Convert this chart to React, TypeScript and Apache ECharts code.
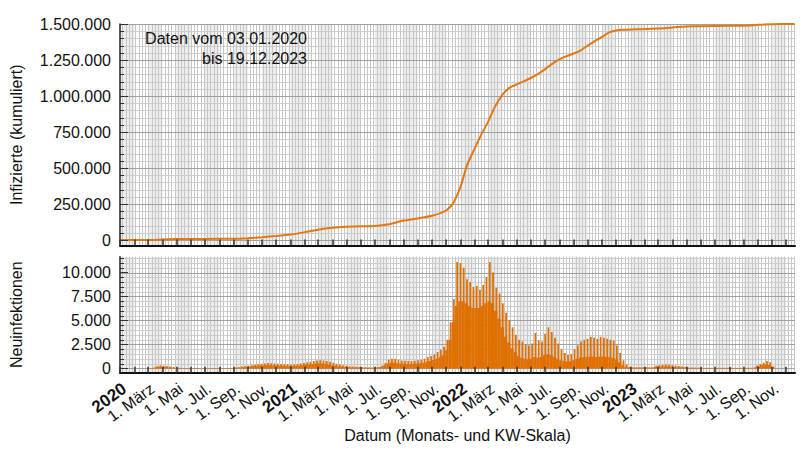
import React, { useEffect, useRef } from 'react';
import * as echarts from 'echarts';

// ---------- data ----------
const cumulativeDates = [
  '2020-01-03', '2020-03-01', '2020-04-01', '2020-05-01', '2020-07-01', '2020-09-01', '2020-10-01',
  '2020-11-01', '2020-12-01', '2021-01-01', '2021-02-01', '2021-03-01', '2021-04-01', '2021-05-01',
  '2021-06-01', '2021-07-01', '2021-08-01', '2021-09-01', '2021-10-01', '2021-11-01', '2021-12-01',
  '2021-12-15', '2022-01-01', '2022-01-15', '2022-02-01', '2022-02-15', '2022-03-01', '2022-03-15',
  '2022-04-01', '2022-04-15', '2022-05-01', '2022-05-15', '2022-06-01', '2022-06-15', '2022-07-01',
  '2022-07-15', '2022-08-01', '2022-08-15', '2022-09-01', '2022-09-15', '2022-10-01', '2022-10-15',
  '2022-11-01', '2022-11-15', '2022-12-01', '2022-12-15', '2023-01-15', '2023-03-01', '2023-04-01',
  '2023-05-01', '2023-06-01', '2023-08-01', '2023-09-15', '2023-10-15', '2023-11-01', '2023-12-19',
];
const cumulativeValues = [
  0, 50, 4000, 6500, 8000, 9000, 13000,
  20000, 28000, 38000, 55000, 72000, 85000, 92000,
  95000, 97000, 110000, 135000, 150000, 168000, 205000,
  250000, 370000, 520000, 640000, 735000, 820000, 920000,
  1010000, 1055000, 1080000, 1100000, 1125000, 1150000, 1185000,
  1220000, 1255000, 1275000, 1295000, 1315000, 1350000, 1380000,
  1410000, 1440000, 1455000, 1460000, 1463000, 1468000, 1476000,
  1482000, 1485000, 1488000, 1490000, 1497000, 1499000, 1499500,
];

// daily new infections, summarised per calendar week (KW) starting 2020-01-06:
// typical day (weeklyLow) and peak reporting day (weeklyPeak)
const firstWeekStart = '2020-01-06';
const weeklyLow = [
  0, 0, 0, 0, 0, 0, 0, 0, 5, 30, 120, 180, 170,
  140, 100, 70, 50, 35, 25, 20, 20, 20, 20, 20, 20, 20,
  20, 20, 20, 20, 20, 20, 20, 20, 40, 70, 100, 130, 160,
  200, 240, 270, 300, 320, 330, 320, 300, 290, 280, 270, 260, 250,
  250, 270, 300, 340, 380, 420, 460, 500, 520, 500, 460, 400, 330,
  270, 220, 180, 150, 120, 100, 90, 80, 70, 60, 55, 55, 60,
  80, 150, 300, 480, 580, 580, 540, 500, 480, 470, 470, 480, 500,
  540, 600, 680, 770, 870, 1000, 1150, 1400, 1900, 3000, 4800, 6500, 7000,
  7000, 6800, 6500, 6300, 6300, 6300, 6500, 6800, 7000, 6800, 6000, 5200, 4300,
  3300, 2700, 2100, 1700, 1300, 1100, 1000, 950, 1000, 1200, 1100, 1200, 1400,
  1500, 1400, 1200, 1000, 850, 750, 700, 750, 850, 1000, 1100, 1150, 1200,
  1250, 1250, 1200, 1250, 1250, 1200, 1150, 1100, 950, 650, 320, 150, 80,
  60, 60, 60, 60, 60, 60, 60, 150, 180, 200, 200, 190, 170,
  150, 130, 110, 90, 50, 50, 45, 45, 40, 40, 40, 35, 35,
  35, 35, 30, 30, 30, 30, 30, 30, 30, 30, 30, 40, 150,
  250, 350, 400, 350, 100, 0, 0, 0, 0, 0, 0, 0,
];
const weeklyPeak = [
  0, 0, 0, 0, 0, 0, 0, 0, 15, 80, 220, 300, 280,
  240, 190, 140, 100, 70, 50, 40, 40, 40, 40, 40, 40, 40,
  40, 40, 40, 40, 40, 40, 40, 40, 90, 140, 190, 240, 280,
  330, 380, 430, 480, 520, 560, 540, 500, 480, 450, 440, 420, 400,
  410, 440, 500, 560, 640, 700, 760, 820, 850, 820, 760, 680, 580,
  480, 400, 330, 270, 230, 200, 170, 150, 130, 110, 100, 100, 110,
  150, 280, 550, 900, 1000, 1000, 900, 830, 800, 780, 780, 800, 840,
  900, 1000, 1150, 1300, 1450, 1700, 1950, 2260, 3000, 4800, 7200, 11100, 11000,
  10500, 9300, 9000, 8500, 8600, 8200, 8700, 9500, 11100, 10000, 8400, 7800, 6800,
  5800, 5000, 4300, 3500, 3000, 2800, 2500, 2400, 2600, 3700, 2900, 2800, 3600,
  4300, 3800, 3200, 2600, 2000, 1600, 1400, 1500, 2000, 2400, 2800, 3000, 3100,
  3300, 3200, 3100, 3300, 3200, 3100, 3000, 2900, 2400, 1600, 850, 400, 170,
  120, 120, 120, 120, 120, 120, 120, 280, 330, 380, 400, 370, 330,
  300, 260, 220, 180, 90, 90, 80, 80, 70, 70, 70, 60, 60,
  60, 60, 55, 55, 55, 55, 55, 55, 55, 55, 55, 80, 300,
  450, 600, 760, 650, 200, 0, 0, 0, 0, 0, 0, 0,
];

const tickLabelDates = [
  '2020-01-01', '2020-03-01', '2020-05-01', '2020-07-01', '2020-09-01', '2020-11-01',
  '2021-01-01', '2021-03-01', '2021-05-01', '2021-07-01', '2021-09-01', '2021-11-01',
  '2022-01-01', '2022-03-01', '2022-05-01', '2022-07-01', '2022-09-01', '2022-11-01',
  '2023-01-01', '2023-03-01', '2023-05-01', '2023-07-01', '2023-09-01', '2023-11-01',
];
const tickLabelTexts = [
  '2020', '1. März', '1. Mai', '1. Jul.', '1. Sep.', '1. Nov.',
  '2021', '1. März', '1. Mai', '1. Jul.', '1. Sep.', '1. Nov.',
  '2022', '1. März', '1. Mai', '1. Jul.', '1. Sep.', '1. Nov.',
  '2023', '1. März', '1. Mai', '1. Jul.', '1. Sep.', '1. Nov.',
];
const topYLabels = [0, 250000, 500000, 750000, 1000000, 1250000, 1500000];
const bottomYLabels = [0, 2500, 5000, 7500, 10000];

// ---------- helpers ----------
const DAY = 86400000;
const WEEK = 7 * DAY;
const parseDate = (s: string) => {
  const [y, m, d] = s.split('-').map(Number);
  return Date.UTC(y, m - 1, d);
};
const X_MIN = Date.UTC(2019, 11, 31, 22);
const X_MAX = Date.UTC(2023, 11, 20);
const FONT = '"Liberation Sans", Arial, Helvetica, sans-serif';
const TEXT = '#111';
const ORANGE = '#e07000';

const monthStarts: number[] = [];
for (let y = 2020; y <= 2023; y++) for (let m = 0; m < 12; m++) monthStarts.push(Date.UTC(y, m, 1));
const mondays: number[] = [];
for (let t = parseDate(firstWeekStart); t < X_MAX; t += WEEK) mondays.push(t);

const fmtNum = (v: number) => String(v).replace(/\B(?=(\d{3})+(?!\d))/g, '.');
const tickLabelValues = tickLabelDates.map(parseDate);

const makeGridRender = (hLines: number[], majorStep: number) => (params: any, api: any) => {
  const cs = params.coordSys;
  const left = cs.x;
  const right = cs.x + cs.width;
  const top = cs.y;
  const bottom = cs.y + cs.height;
  const children: any[] = [];
  monthStarts.forEach((t) => {
    const d = new Date(t);
    const month = d.getUTCMonth();
    if (month % 2 !== 0) return;
    const end = Date.UTC(d.getUTCFullYear(), month + 1, 1);
    let x0 = api.coord([t, 0])[0];
    let x1 = api.coord([end, 0])[0];
    x0 = Math.max(x0, left);
    x1 = Math.min(x1, right);
    if (x1 > x0) {
      children.push({ type: 'rect', shape: { x: x0, y: top, width: x1 - x0, height: bottom - top }, style: { fill: '#ededed' } });
    }
  });
  mondays.forEach((t) => {
    const x = Math.round(api.coord([t, 0])[0]) + 0.5;
    if (x > left + 1 && x < right) {
      children.push({ type: 'line', shape: { x1: x, y1: top, x2: x, y2: bottom }, style: { stroke: '#c6c6c6', lineWidth: 1 } });
    }
  });
  hLines.forEach((v) => {
    const y = Math.round(api.coord([X_MIN, v])[1]) + 0.5;
    const major = v % majorStep === 0;
    children.push({ type: 'line', shape: { x1: left, y1: y, x2: right, y2: y }, style: { stroke: major ? '#a0a0a0' : '#cccccc', lineWidth: 1 } });
    if (!major) {
      children.push({ type: 'line', shape: { x1: left, y1: y, x2: left + 4, y2: y }, style: { stroke: '#333', lineWidth: 1 } });
    }
  });
  return { type: 'group', children };
};

const topHLines: number[] = [];
for (let v = 0; v <= 1500000; v += 50000) topHLines.push(v);
const bottomHLines: number[] = [];
for (let v = 0; v <= 11500; v += 500) bottomHLines.push(v);

const renderWeekBars = (params: any, api: any) => {
  const t = api.value(0);
  const low = api.value(1);
  const peak = api.value(2);
  const p0 = api.coord([t, 0]);
  const p1 = api.coord([t + WEEK, low]);
  const pp = api.coord([t, peak]);
  const w = p1[0] - p0[0];
  const children: any[] = [];
  if (low > 0) {
    children.push({ type: 'rect', shape: { x: p0[0], y: p1[1], width: w, height: p0[1] - p1[1] }, style: { fill: ORANGE } });
  }
  if (peak > 0) {
    children.push({ type: 'rect', shape: { x: p0[0] + w * 0.4, y: pp[1], width: 1.8, height: p0[1] - pp[1] }, style: { fill: ORANGE } });
  }
  return { type: 'group', children };
};

const xAxisCommon = {
  type: 'value',
  min: X_MIN,
  max: X_MAX,
  z: 10,
  axisLine: { show: true, onZero: false, lineStyle: { color: '#111', width: 2 } },
  axisTick: { show: true, inside: true, length: 6, customValues: monthStarts, lineStyle: { color: '#333', width: 1.5 } },
  splitLine: { show: false },
};

export default function App() {
  const ref = useRef<HTMLDivElement>(null);
  useEffect(() => {
    if (!ref.current) return;
    const chart = echarts.init(ref.current, undefined, { renderer: 'svg' });
    const option: any = {
      animation: false,
      textStyle: { fontFamily: FONT },
      grid: [
        { left: 119, right: 5, top: 24, height: 221.5 },
        { left: 119, right: 5, top: 256.7, height: 116 },
      ],
      xAxis: [
        { ...xAxisCommon, gridIndex: 0, axisLabel: { show: false } },
        {
          ...xAxisCommon,
          gridIndex: 1,
          axisLabel: {
            show: true,
            hideOverlap: false,
            customValues: tickLabelValues,
            formatter: (v: number) => {
              const i = tickLabelValues.indexOf(v);
              if (i < 0) return '';
              const s = tickLabelTexts[i];
              return /^\d{4}$/.test(s) ? `{y|${s}}` : s;
            },
            rotate: 36,
            margin: 8,
            align: 'right',
            verticalAlign: 'top',
            fontSize: 16,
            lineHeight: 15,
            color: TEXT,
            fontFamily: FONT,
            rich: { y: { fontWeight: 'bold', fontSize: 17, lineHeight: 15, color: TEXT, fontFamily: FONT } },
          },
          name: 'Datum (Monats- und KW-Skala)',
          nameLocation: 'middle',
          nameGap: 53,
          nameTextStyle: { fontSize: 16, color: TEXT, fontFamily: FONT },
        },
      ],
      yAxis: [
        {
          type: 'value', gridIndex: 0, min: -38000, max: 1500000, z: 10,
          axisLine: { show: true, onZero: false, lineStyle: { color: '#222', width: 1.5 } },
          axisTick: { show: true, inside: true, length: 8, customValues: topYLabels, lineStyle: { color: '#333' } },
          axisLabel: { customValues: topYLabels, formatter: fmtNum, fontSize: 16, color: TEXT, margin: 9, fontFamily: FONT },
          splitLine: { show: false },
          name: 'Infizierte (kumuliert)', nameLocation: 'middle', nameGap: 96,
          nameTextStyle: { fontSize: 16, color: TEXT, fontFamily: FONT },
        },
        {
          type: 'value', gridIndex: 1, min: -450, max: 11650, z: 10,
          axisLine: { show: true, onZero: false, lineStyle: { color: '#222', width: 1.5 } },
          axisTick: { show: true, inside: true, length: 8, customValues: bottomYLabels, lineStyle: { color: '#333' } },
          axisLabel: { customValues: bottomYLabels, formatter: fmtNum, fontSize: 16, color: TEXT, margin: 9, fontFamily: FONT },
          splitLine: { show: false },
          name: 'Neuinfektionen', nameLocation: 'middle', nameGap: 96,
          nameTextStyle: { fontSize: 16, color: TEXT, fontFamily: FONT },
        },
      ],
      series: [
        {
          type: 'custom', xAxisIndex: 0, yAxisIndex: 0, z: 1, silent: true, clip: false,
          data: [[X_MIN, 0]], renderItem: makeGridRender(topHLines, 250000),
        },
        {
          type: 'custom', xAxisIndex: 1, yAxisIndex: 1, z: 1, silent: true, clip: false,
          data: [[X_MIN, 0]], renderItem: makeGridRender(bottomHLines, 2500),
        },
        {
          type: 'custom', name: 'Neuinfektionen', xAxisIndex: 1, yAxisIndex: 1, z: 2, silent: true, clip: true,
          data: weeklyLow.map((b, i) => [parseDate(firstWeekStart) + i * WEEK, b, weeklyPeak[i]]),
          renderItem: renderWeekBars,
        },
        {
          type: 'line', name: 'Infizierte', xAxisIndex: 0, yAxisIndex: 0, z: 3,
          data: cumulativeDates.map((d, i) => [parseDate(d), cumulativeValues[i]]),
          showSymbol: false, smooth: 0.2,
          lineStyle: { color: '#e27810', width: 2 },
          itemStyle: { color: '#e27810' },
        },
      ],
      graphic: [
        { type: 'text', x: 307, y: 38, z: 20, style: { text: 'Daten vom 03.01.2020', align: 'right', verticalAlign: 'middle', fontSize: 16, fontFamily: FONT, fill: TEXT } },
        { type: 'text', x: 307, y: 58, z: 20, style: { text: 'bis 19.12.2023', align: 'right', verticalAlign: 'middle', fontSize: 16, fontFamily: FONT, fill: TEXT } },
      ],
    };
    chart.setOption(option);
    return () => chart.dispose();
  }, []);
  return <div ref={ref} style={{ position: 'fixed', left: 0, top: 0, width: 800, height: 450, background: '#fff' }} />;
}
